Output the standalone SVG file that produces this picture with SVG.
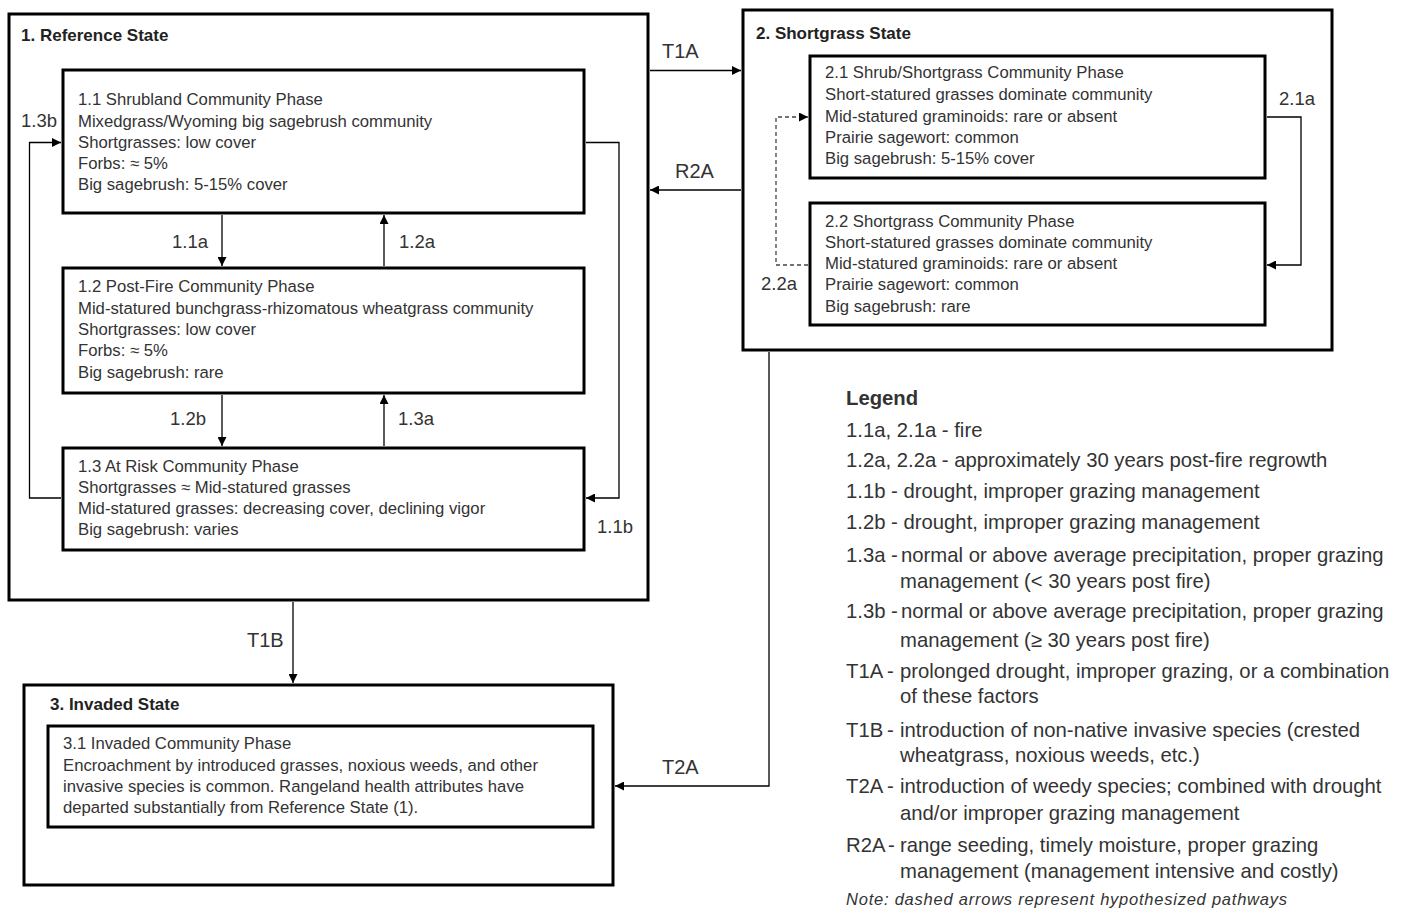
<svg xmlns="http://www.w3.org/2000/svg" width="1407" height="914" viewBox="0 0 1407 914">
<style>
text{font-family:"Liberation Sans",Arial,sans-serif;fill:#333}
.state{fill:#fff;stroke:#000;stroke-width:3}
.phase{fill:#fff;stroke:#000;stroke-width:3}
.st{font-size:17px;font-weight:bold;fill:#222}
.pt{font-size:16.7px}
.lb{font-size:18.5px}
.tl{font-size:20px}
.lg{font-size:20.3px}
.cn{fill:none;stroke:#000;stroke-width:1.3}
.dash{stroke-dasharray:4 3;stroke:#444}
</style>
<defs>
<marker id="ah" viewBox="0 0 10 10" refX="10" refY="5" markerWidth="9" markerHeight="9" markerUnits="userSpaceOnUse" orient="auto">
<path d="M0,0 L10,5 L0,10 z" fill="#000"/>
</marker>
</defs>
<rect width="1407" height="914" fill="#fff"/>

<g id="state1">
<rect class="state" x="9" y="14" width="639" height="586"/>
<text class="st" x="21" y="41">1. Reference State</text>
</g>
<g id="phase11">
<rect class="phase" x="63" y="70" width="521" height="143"/>
<text class="pt" x="78" y="105">1.1 Shrubland Community Phase</text>
<text class="pt" x="78" y="126.5">Mixedgrass/Wyoming big sagebrush community</text>
<text class="pt" x="78" y="148">Shortgrasses: low cover</text>
<text class="pt" x="78" y="168.5">Forbs: ≈ 5%</text>
<text class="pt" x="78" y="189.5">Big sagebrush: 5-15% cover</text>
</g>
<g id="phase12">
<rect class="phase" x="63" y="268" width="521" height="125"/>
<text class="pt" x="78" y="292">1.2 Post-Fire Community Phase</text>
<text class="pt" x="78" y="313.5">Mid-statured bunchgrass-rhizomatous wheatgrass community</text>
<text class="pt" x="78" y="335">Shortgrasses: low cover</text>
<text class="pt" x="78" y="356">Forbs: ≈ 5%</text>
<text class="pt" x="78" y="377.5">Big sagebrush: rare</text>
</g>
<g id="phase13">
<rect class="phase" x="63" y="448" width="521" height="102"/>
<text class="pt" x="78" y="472">1.3 At Risk Community Phase</text>
<text class="pt" x="78" y="493">Shortgrasses ≈ Mid-statured grasses</text>
<text class="pt" x="78" y="514">Mid-statured grasses: decreasing cover, declining vigor</text>
<text class="pt" x="78" y="535">Big sagebrush: varies</text>
</g>

<g id="state2">
<rect class="state" x="743" y="10" width="589" height="340"/>
<text class="st" x="756" y="39">2. Shortgrass State</text>
</g>
<g id="phase21">
<rect class="phase" x="810" y="56" width="455" height="122"/>
<text class="pt" x="825" y="78">2.1 Shrub/Shortgrass Community Phase</text>
<text class="pt" x="825" y="100">Short-statured grasses dominate community</text>
<text class="pt" x="825" y="121.5">Mid-statured graminoids: rare or absent</text>
<text class="pt" x="825" y="143">Prairie sagewort: common</text>
<text class="pt" x="825" y="164">Big sagebrush: 5-15% cover</text>
</g>
<g id="phase22">
<rect class="phase" x="810" y="203" width="455" height="122"/>
<text class="pt" x="825" y="226.5">2.2 Shortgrass Community Phase</text>
<text class="pt" x="825" y="248">Short-statured grasses dominate community</text>
<text class="pt" x="825" y="269">Mid-statured graminoids: rare or absent</text>
<text class="pt" x="825" y="290">Prairie sagewort: common</text>
<text class="pt" x="825" y="312">Big sagebrush: rare</text>
</g>

<g id="state3">
<rect class="state" x="24" y="685" width="589" height="200"/>
<text class="st" x="50" y="710">3. Invaded  State</text>
</g>
<g id="phase31">
<rect class="phase" x="48" y="726" width="545" height="101"/>
<text class="pt" x="63" y="749">3.1 Invaded Community Phase</text>
<text class="pt" x="63" y="771">Encroachment by introduced grasses, noxious weeds, and other</text>
<text class="pt" x="63" y="792">invasive species is common. Rangeland health attributes have</text>
<text class="pt" x="63" y="813">departed substantially from Reference State (1).</text>
</g>

<g id="connectors">
<line class="cn" x1="650" y1="70.5" x2="741" y2="70.5" marker-end="url(#ah)"/>
<line class="cn" x1="741" y1="190" x2="650" y2="190" marker-end="url(#ah)"/>
<line class="cn" x1="293" y1="602" x2="293" y2="683" marker-end="url(#ah)"/>
<path class="cn" d="M769,352 V786 H615" marker-end="url(#ah)"/>
<line class="cn" x1="222" y1="215" x2="222" y2="266" marker-end="url(#ah)"/>
<line class="cn" x1="384" y1="266" x2="384" y2="215" marker-end="url(#ah)"/>
<line class="cn" x1="222" y1="395" x2="222" y2="446" marker-end="url(#ah)"/>
<line class="cn" x1="384" y1="446" x2="384" y2="395" marker-end="url(#ah)"/>
<path class="cn" d="M61,498 H29.5 V142.5 H61" marker-end="url(#ah)"/>
<path class="cn" d="M586,142.5 H619 V498 H586" marker-end="url(#ah)"/>
<path class="cn" d="M1267,117 H1301 V265 H1267" marker-end="url(#ah)"/>
<path class="cn dash" d="M808,265 H776 V117 H808" marker-end="url(#ah)"/>
<text class="tl" x="662" y="58">T1A</text>
<text class="tl" x="675" y="178">R2A</text>
<text class="tl" x="247" y="647">T1B</text>
<text class="tl" x="662" y="774">T2A</text>
<text class="lb" x="172" y="248">1.1a</text>
<text class="lb" x="399" y="248">1.2a</text>
<text class="lb" x="170" y="425">1.2b</text>
<text class="lb" x="398" y="425">1.3a</text>
<text class="lb" x="21" y="127">1.3b</text>
<text class="lb" x="597" y="533">1.1b</text>
<text class="lb" x="1279" y="105">2.1a</text>
<text class="lb" x="761" y="290">2.2a</text>
</g>

<g id="legend">
<text class="lg" x="846" y="405" font-weight="bold" fill="#222">Legend</text>
<text class="lg" x="846" y="437">1.1a, 2.1a - fire</text>
<text class="lg" x="846" y="467">1.2a, 2.2a - approximately 30 years post-fire regrowth</text>
<text class="lg" x="846" y="498">1.1b - drought, improper grazing management</text>
<text class="lg" x="846" y="529">1.2b - drought, improper grazing management</text>
<text class="lg" y="562"><tspan x="846">1.3a -</tspan><tspan x="901">normal or above average precipitation, proper grazing</tspan></text>
<text class="lg" x="900" y="588">management (&lt; 30 years post fire)</text>
<text class="lg" y="618"><tspan x="846">1.3b -</tspan><tspan x="901">normal or above average precipitation, proper grazing</tspan></text>
<text class="lg" x="900" y="647">management (≥ 30 years post fire)</text>
<text class="lg" y="678"><tspan x="846">T1A</tspan><tspan x="887">-</tspan><tspan x="900">prolonged drought, improper grazing, or a combination</tspan></text>
<text class="lg" x="900" y="703">of these factors</text>
<text class="lg" y="737"><tspan x="846">T1B</tspan><tspan x="887">-</tspan><tspan x="900">introduction of non-native invasive species (crested</tspan></text>
<text class="lg" x="900" y="762">wheatgrass, noxious weeds, etc.)</text>
<text class="lg" y="793"><tspan x="846">T2A</tspan><tspan x="887">-</tspan><tspan x="900">introduction of weedy species; combined with drought</tspan></text>
<text class="lg" x="900" y="820">and/or improper grazing management</text>
<text class="lg" y="852"><tspan x="846">R2A</tspan><tspan x="888">-</tspan><tspan x="900">range seeding, timely moisture, proper grazing</tspan></text>
<text class="lg" x="900" y="878">management (management intensive and costly)</text>
<text x="846" y="905" font-size="16.5" font-style="italic" textLength="441" lengthAdjust="spacing">Note:  dashed arrows represent hypothesized pathways</text>
</g>
</svg>
